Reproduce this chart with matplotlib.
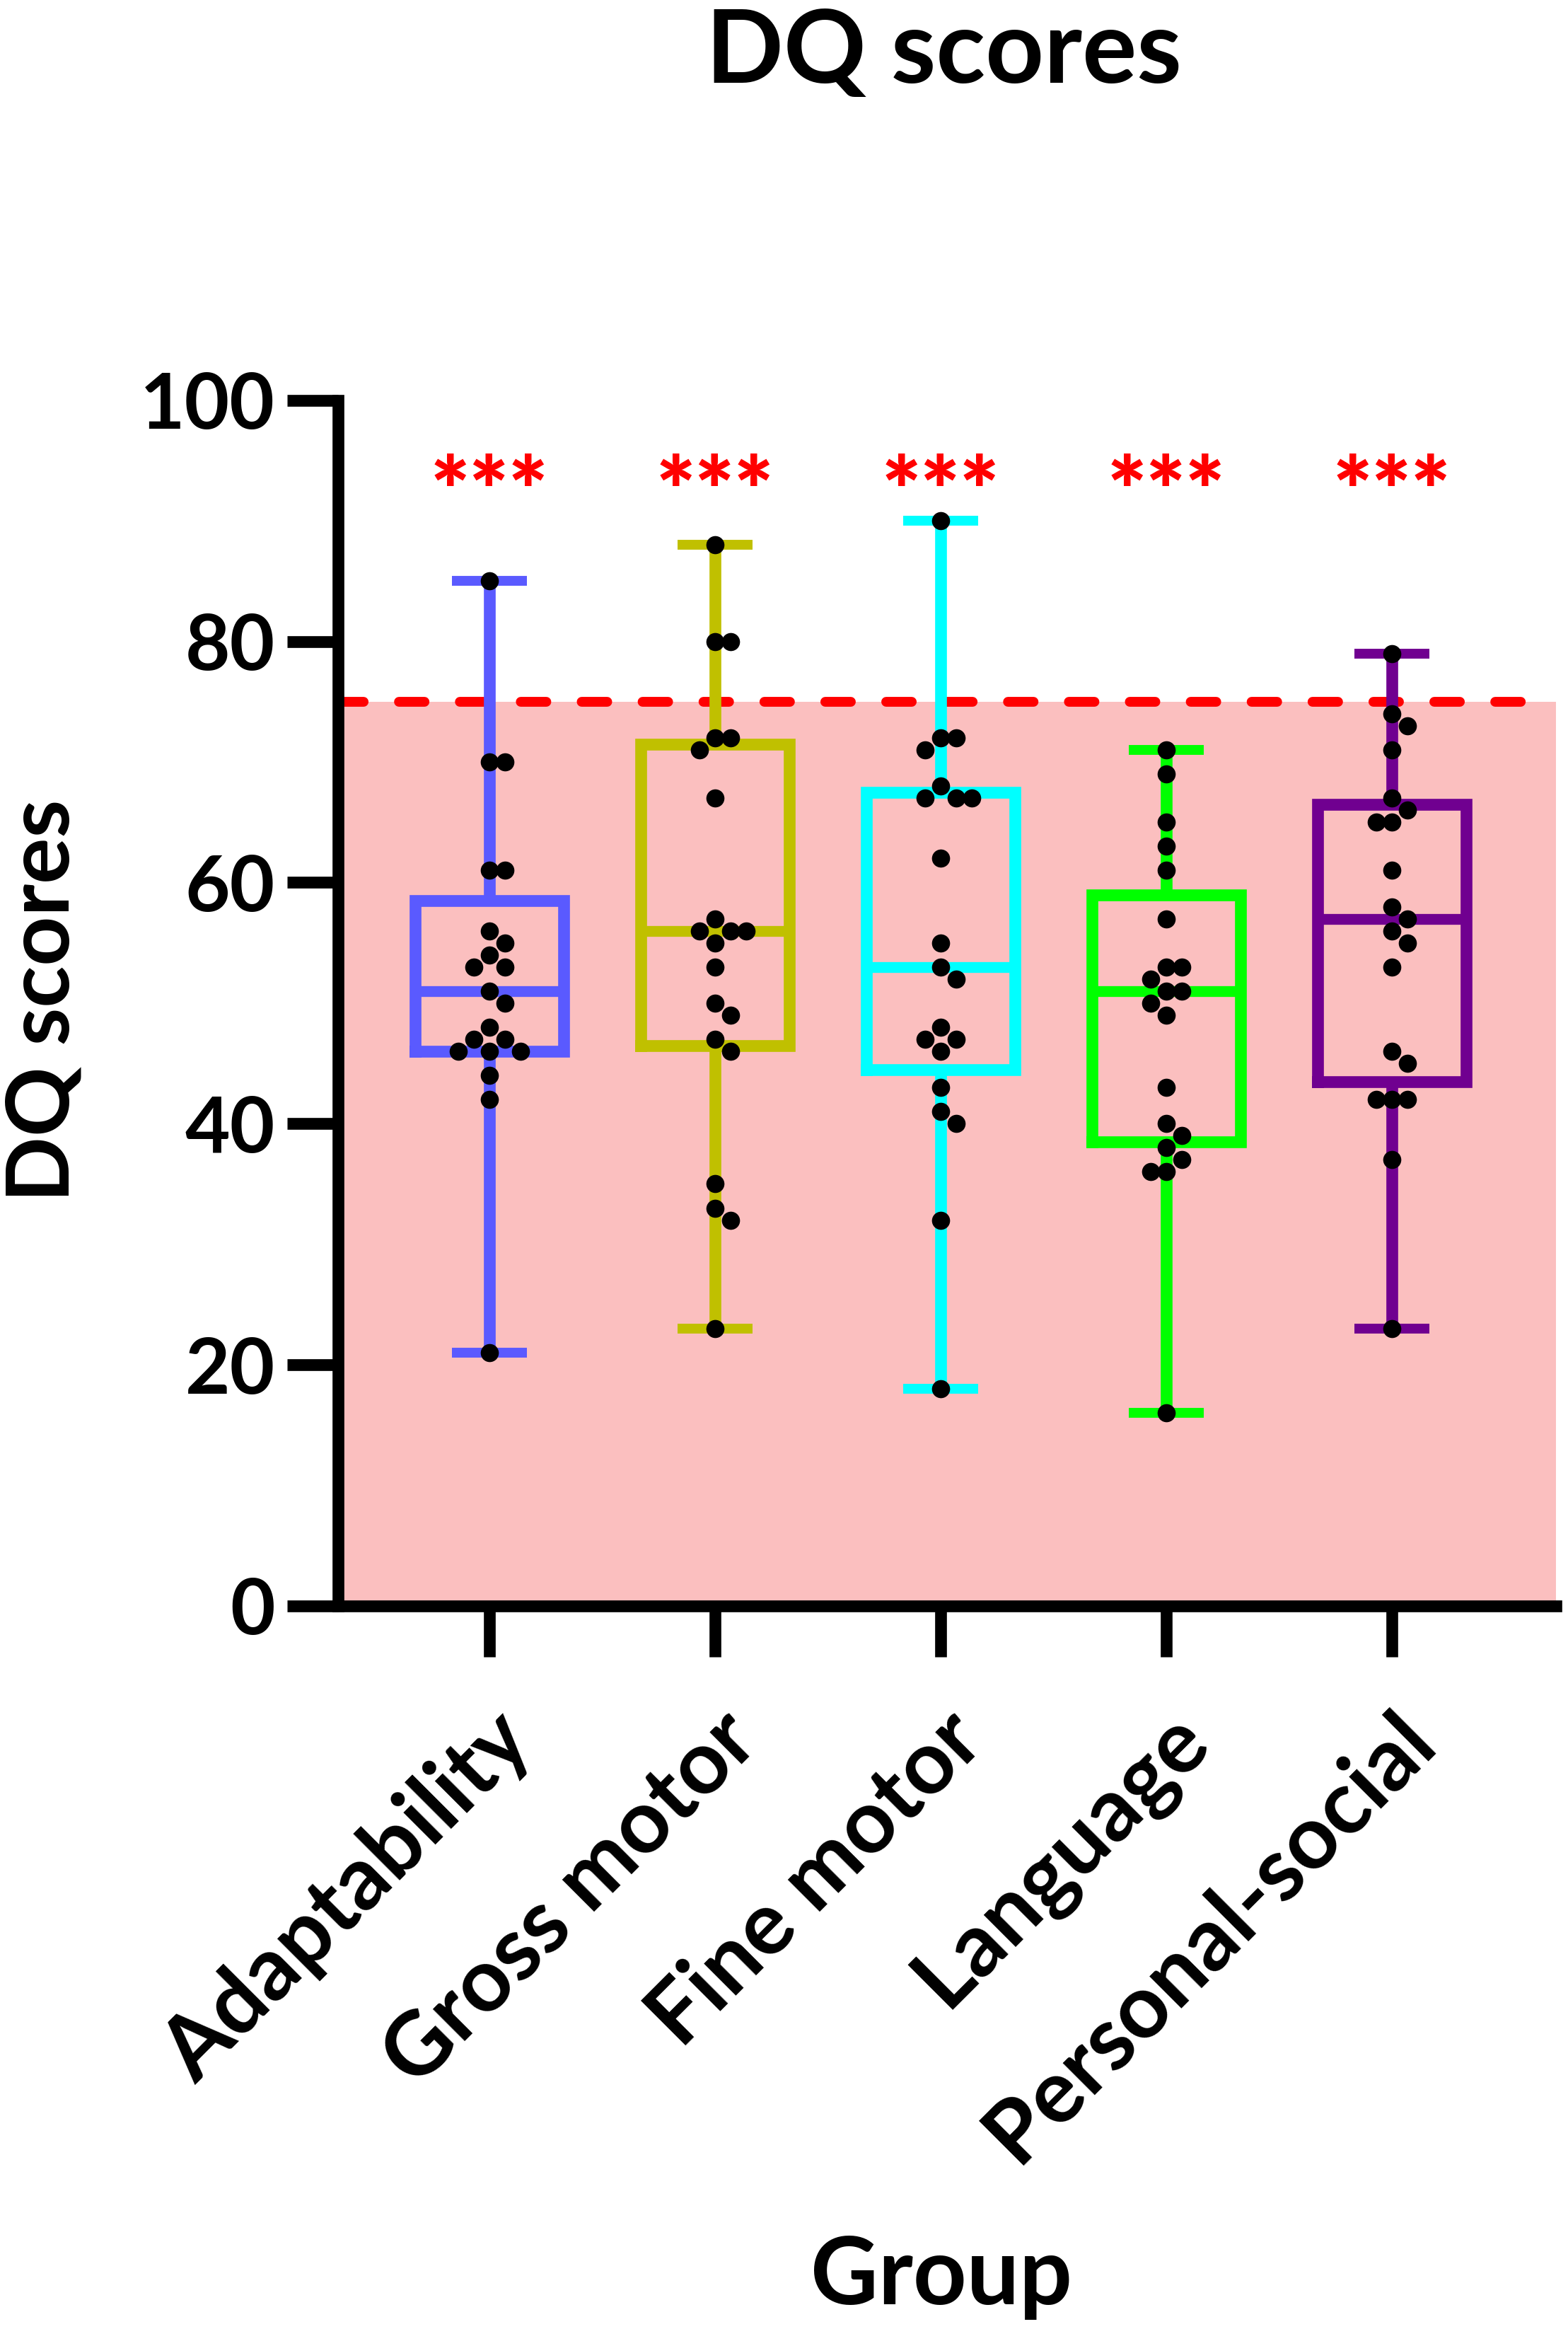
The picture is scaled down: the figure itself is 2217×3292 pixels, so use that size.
import numpy as np
import matplotlib
matplotlib.use("Agg")
import matplotlib.pyplot as plt

# values
groups = ["Adaptability", "Gross motor", "Fine motor", "Language", "Personal-social"]
adaptability = [85, 70, 70, 61, 61, 56, 55, 54, 53, 53, 51, 50, 48, 47, 47, 46, 46, 46, 44, 42, 21]
gross_motor = [88, 80, 80, 72, 72, 71, 67, 57, 56, 56, 56, 55, 53, 50, 49, 47, 46, 35, 33, 32, 23]
fine_motor = [90, 72, 72, 71, 68, 67, 67, 67, 62, 55, 53, 52, 48, 47, 47, 46, 43, 41, 40, 32, 18]
language = [71, 69, 65, 63, 61, 57, 53, 53, 52, 51, 51, 50, 49, 43, 40, 39, 38, 37, 36, 36, 16]
personal_social = [79, 74, 73, 71, 67, 66, 65, 65, 61, 58, 57, 56, 55, 53, 46, 45, 42, 42, 42, 37, 23]
all_scores = [adaptability, gross_motor, fine_motor, language, personal_social]
colors = ["#5A5AFF", "#C0C000", "#00FFFF", "#00FF00", "#700090"]
signif = ["***", "***", "***", "***", "***"]
cutoff = 75

plt.rcParams["font.family"] = ["Lato", "DejaVu Sans"]
plt.rcParams["font.weight"] = "bold"

fig = plt.figure(figsize=(22.17, 32.92), dpi=100)
ax = fig.add_axes([0.2156, 0.3105, 0.7767, 0.5176])
ax.set_xlim(-0.671, 4.727)
ax.set_ylim(0, 100)


def swarm_offsets(values, px_per_unit, diam, step):
    # simple column beeswarm: shift a dot sideways until it does not overlap
    placed = []
    offs = []
    cands = [0]
    for i in range(1, 15):
        cands += [i, -i]
    for v in values:
        y = v * px_per_unit
        for c in cands:
            if all(not (pc == c and abs(py - y) < diam) for pc, py in placed):
                break
        placed.append((c, y))
        offs.append(c * step)
    return np.array(offs)


# pink area below the cut-off and the dashed cut-off line
ax.axhspan(0, cutoff, color="#FBBFBF", lw=0, zorder=0)
ax.axhline(cutoff, color="#FF0000", lw=10, ls=(0, (2.6, 3.6)),
           dash_capstyle="round", zorder=1)

for i, (vals, col) in enumerate(zip(all_scores, colors)):
    q1, med, q3 = np.percentile(vals, [25, 50, 75], method="weibull")
    st = [dict(med=med, q1=q1, q3=q3, whislo=min(vals), whishi=max(vals), fliers=[])]
    ax.bxp(st, positions=[i], widths=0.66, capwidths=0.33, showfliers=False,
           boxprops=dict(color=col, lw=12, solid_joinstyle="miter"),
           whiskerprops=dict(color=col, lw=12, solid_capstyle="butt"),
           capprops=dict(color=col, lw=10, solid_capstyle="butt"),
           medianprops=dict(color=col, lw=11, solid_capstyle="butt"),
           zorder=3)
    xo = swarm_offsets(vals, 17.04, 24, 0.0690)
    ax.scatter(i + xo, vals, s=340, color="black", lw=0, zorder=5, clip_on=False)
    ax.text(i, 92.0, signif[i], ha="center", va="center", color="#FF0000",
            fontsize=94, fontweight="heavy")

for s in ["top", "right"]:
    ax.spines[s].set_visible(False)
for s in ["left", "bottom"]:
    ax.spines[s].set_linewidth(12)
    ax.spines[s].set_capstyle("projecting")

ax.set_yticks([0, 20, 40, 60, 80, 100])
ax.set_xticks(range(len(groups)))
ax.set_xticklabels(groups, rotation=45, ha="right", rotation_mode="anchor")
ax.tick_params(width=12, length=52, labelsize=79, pad=12)
ax.tick_params(axis="x", labelsize=90, pad=42)

fig.text(0.6017, 0.9645, "DQ scores", ha="center", va="baseline",
         fontsize=104, fontweight="bold")
fig.text(0.0284, 0.5705, "DQ scores", ha="center", va="center", rotation=90,
         fontsize=88, fontweight="bold")
fig.text(0.6005, 0.0105, "Group", ha="center", va="baseline",
         fontsize=95, fontweight="bold")

fig.savefig("out.png", dpi=100)
